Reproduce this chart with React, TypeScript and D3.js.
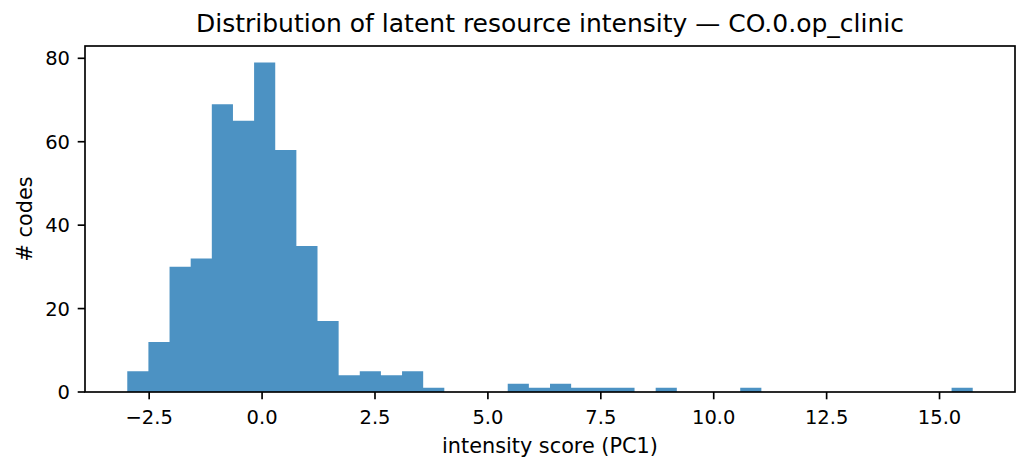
import React from "react";
import * as d3 from "d3";

const binStart = -2.985;
const binWidth = 0.468;
const counts = [5, 12, 30, 32, 69, 65, 79, 58, 35, 17, 4, 5, 4, 5, 1, 0, 0, 0, 2, 1, 2, 1, 1, 1, 0, 1, 0, 0, 0, 1, 0, 0, 0, 0, 0, 0, 0, 0, 0, 1];
const xTicks = [-2.5, 0, 2.5, 5, 7.5, 10, 12.5, 15];
const yTicks = [0, 20, 40, 60, 80];
const title = "Distribution of latent resource intensity — CO.0.op_clinic";
const xLabel = "intensity score (PC1)";
const yLabel = "# codes";

export default function App() {
  const W = 1029, H = 470;
  const left = 85, right = 1015, top = 46, bottom = 392;
  const bins = counts.map((c, i) => ({ x0: binStart + i * binWidth, x1: binStart + (i + 1) * binWidth, c }));
  const dMin = binStart, dMax = binStart + counts.length * binWidth;
  const pad = (dMax - dMin) * 0.05;
  const x = d3.scaleLinear().domain([dMin - pad, dMax + pad]).range([left, right]);
  const yMax = (d3.max(counts) as number) * 1.05;
  const y = d3.scaleLinear().domain([0, yMax]).range([bottom, top]);
  const font = "DejaVu Sans, sans-serif";
  const fsTick = 19.5;
  const fsLabel = 20.8;
  const fsTitle = 25;
  const ink = "#000";
  const lw = 1.67;
  const tickLen = 7.3;

  const p = d3.path();
  bins.filter(b => b.c > 0).forEach(b => {
    p.rect(x(b.x0), y(b.c), x(b.x1) - x(b.x0), y(0) - y(b.c));
  });

  return (
    <svg width={W} height={H} style={{ position: "absolute", left: 0, top: 0, background: "#fff" }} fontFamily={font}>
      <rect x={0} y={0} width={W} height={H} fill="#fff" />
      <path d={p.toString()} fill="#1f77b4" fillOpacity={0.8} />
      <rect x={left} y={top} width={right - left} height={bottom - top} fill="none" stroke={ink} strokeWidth={lw} />
      {xTicks.map(t => (
        <g key={t} transform={`translate(${x(t)},${bottom})`}>
          <line y1={0} y2={tickLen} stroke={ink} strokeWidth={lw} />
          <text y={32} textAnchor="middle" fontSize={fsTick} fill="#000">{d3.format(".1f")(t).replace("-", "−")}</text>
        </g>
      ))}
      {yTicks.map(t => (
        <g key={t} transform={`translate(${left},${y(t)})`}>
          <line x1={0} x2={-tickLen} stroke={ink} strokeWidth={lw} />
          <text x={-15} dy="0.36em" textAnchor="end" fontSize={fsTick} fill="#000">{t}</text>
        </g>
      ))}
      <text x={(left + right) / 2} y={453} textAnchor="middle" fontSize={fsLabel} fill="#000">{xLabel}</text>
      <text transform={`translate(32,${(top + bottom) / 2}) rotate(-90)`} textAnchor="middle" fontSize={fsLabel} fill="#000">{yLabel}</text>
      <text x={(left + right) / 2} y={32} textAnchor="middle" fontSize={fsTitle} fill="#000">{title}</text>
    </svg>
  );
}
